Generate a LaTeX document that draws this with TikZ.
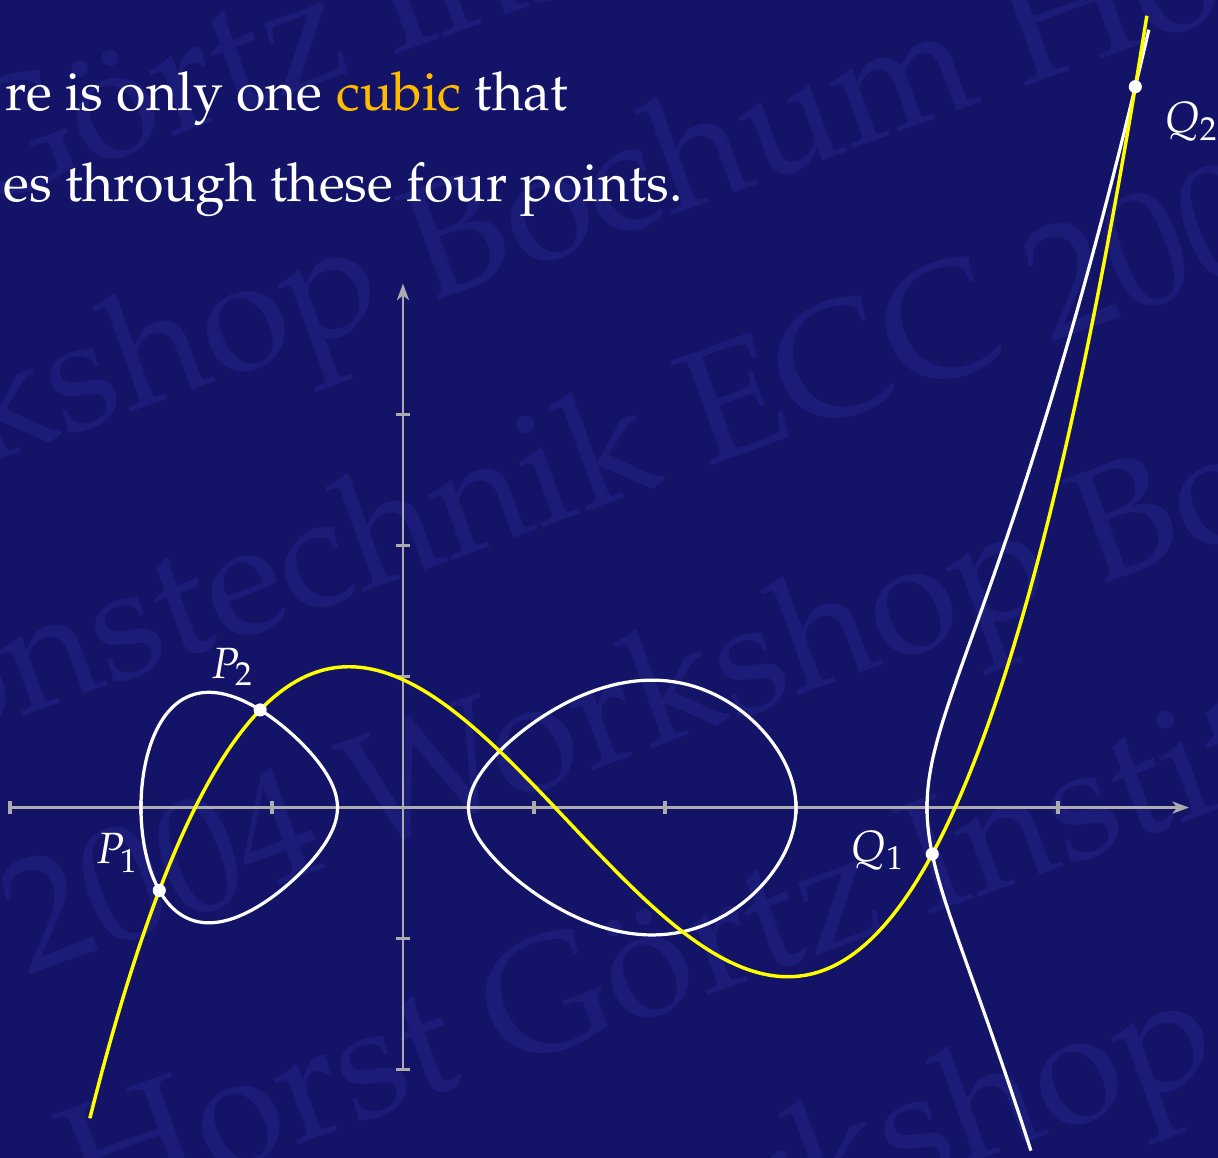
\documentclass[tikz,border=0pt]{standalone}
\usepackage[T1]{fontenc}
\usepackage{mathpazo}
\usepackage{xcolor}
\usepackage{tikz}
\usetikzlibrary{arrows.meta, positioning}

\definecolor{slideblue}{RGB}{19,20,104}
\definecolor{markblue}{RGB}{27,28,120}
\definecolor{axisgray}{RGB}{172,172,176}
\definecolor{cubicyellow}{RGB}{255,255,0}
\definecolor{cubicorange}{RGB}{255,187,0}

\newcommand{\xPa}{-1.86}
\newcommand{\xPb}{-1.09}
\newcommand{\xQa}{4.04}
\newcommand{\xQb}{5.59}

\begin{document}
\begin{tikzpicture}[
    declare function={
      curvef(\x)=(\x+2)*(\x+0.5)*(\x-0.5)*(\x-3)*(\x-4)/32;
      lox(\x)=-1.25-0.75*cos(\x);
      loy(\x)=0.75*sin(\x)*sqrt(abs((0.5-lox(\x))*(3-lox(\x))*(4-lox(\x)))/32);
      mox(\x)=1.75-1.25*cos(\x);
      moy(\x)=1.25*sin(\x)*sqrt(abs((mox(\x)+2)*(mox(\x)+0.5)*(4-mox(\x)))/32);
      rbx(\x)=4+(\x)*(\x);
      rby(\x)=(\x)*sqrt(abs((rbx(\x)+2)*(rbx(\x)+0.5)*(rbx(\x)-0.5)*(rbx(\x)-3))/32);
      cubic(\x)=(\yPa)*(\x-(\xPb))*(\x-(\xQa))*(\x-(\xQb))/(\dPa)
               +(\yPb)*(\x-(\xPa))*(\x-(\xQa))*(\x-(\xQb))/(\dPb)
               +(\yQa)*(\x-(\xPa))*(\x-(\xPb))*(\x-(\xQb))/(\dQa)
               +(\yQb)*(\x-(\xPa))*(\x-(\xPb))*(\x-(\xQa))/(\dQb);
    },
    slidetext/.style={text=white, inner sep=0pt, font=\fontsize{11.66}{14}\selectfont},
    wmark/.style={text=markblue, inner sep=0pt, anchor=base west, rotate=20, font=\fontsize{35}{42}\selectfont},
    axisline/.style={draw=axisgray, line width=0.62pt, -{Stealth[length=3.6pt, width=2.6pt, inset=1pt]}},
    tickmark/.style={draw=axisgray, line width=0.8pt},
    genustwo/.style={draw=white, line width=0.7pt},
    cubicline/.style={draw=cubicyellow, line width=0.75pt},
    dot/.style={circle, fill=white, inner sep=0pt, minimum size=0.1cm},
    ptlabel/.style={text=white, inner sep=0pt, font=\fontsize{9.5}{11}\selectfont}
]
\pgfmathsetmacro\yPa{-sqrt(curvef(\xPa))}
\pgfmathsetmacro\yPb{sqrt(curvef(\xPb))}
\pgfmathsetmacro\yQa{-sqrt(curvef(\xQa))}
\pgfmathsetmacro\yQb{sqrt(curvef(\xQb))}
\pgfmathsetmacro\dPa{(\xPa-(\xPb))*(\xPa-(\xQa))*(\xPa-(\xQb))}
\pgfmathsetmacro\dPb{(\xPb-(\xPa))*(\xPb-(\xQa))*(\xPb-(\xQb))}
\pgfmathsetmacro\dQa{(\xQa-(\xPa))*(\xQa-(\xPb))*(\xQa-(\xQb))}
\pgfmathsetmacro\dQb{(\xQb-(\xPa))*(\xQb-(\xPb))*(\xQb-(\xQa))}

\useasboundingbox (-3.076,-2.668) rectangle (6.221,6.164);
\fill[slideblue] (-3.3,-2.9) rectangle (6.45,6.4);
\clip (-3.3,-2.9) rectangle (6.45,6.4);

\begin{scope}[shift={(-3.076,6.164)}, rotate=20, x=0.0076336cm, y=0.0076336cm]
\node[wmark] (wm1) at (-546,-187) {Horst G\"ortz Institut f\"ur Sicherheit};
\node[wmark] (wm2) at (-477,-432) {Workshop Bochum Horst G\"ortz Institut};
\node[wmark] (wm3) at (-990,-681) {Informationstechnik ECC 2004 Workshop};
\node[wmark] (wm4) at (-676,-927) {ECC 2004 Workshop Bochum Horst};
\node[wmark] (wm5) at (-338,-1178) {Horst G\"ortz Institut f\"ur Sicherheit};
\node[wmark] (wm6) at (-314,-1425) {2004 Workshop Bochum Horst};
\end{scope}

\node[slidetext, anchor=base east] (line1) at (1.267,5.324) {re is only one \textcolor{cubicorange}{cubic} that};
\node[slidetext, anchor=base east] (line2) at (2.145,4.624) {es through these four points.};

\draw[axisline] (-3,0) -- (6,0);
\draw[axisline] (0,-2) -- (0,4);
\foreach \i in {-3,-2,-1,1,2,3,4,5}
  \draw[tickmark] (\i,-0.05) -- (\i,0.05);
\foreach \j in {-2,-1,1,2,3}
  \draw[tickmark] (-0.05,\j) -- (0.05,\j);

\draw[genustwo] plot[domain=0:360, samples=145] ({lox(\x)},{loy(\x)}) -- cycle;
\draw[genustwo] plot[domain=0:360, samples=145] ({mox(\x)},{moy(\x)}) -- cycle;
\draw[genustwo] plot[domain=-0.8905:1.3027, samples=120, smooth] ({rbx(\x)},{rby(\x)});

\draw[cubicline] plot[domain=-2.39:5.68, samples=200, smooth] (\x,{cubic(\x)});

\node[dot] (p1) at (\xPa,\yPa) {};
\node[dot] (p2) at (\xPb,\yPb) {};
\node[dot] (q1) at (\xQa,\yQa) {};
\node[dot] (q2) at (\xQb,\yQb) {};

\node[ptlabel] (p1lbl) at (-2.179,-0.347) {$P_1$};
\node[ptlabel] (p2lbl) at (-1.302,1.073) {$P_2$};
\node[ptlabel] (q1lbl) at (3.626,-0.328) {$Q_1$};
\node[ptlabel] (q2lbl) at (6.020,5.233) {$Q_2$};
\end{tikzpicture}
\end{document}
